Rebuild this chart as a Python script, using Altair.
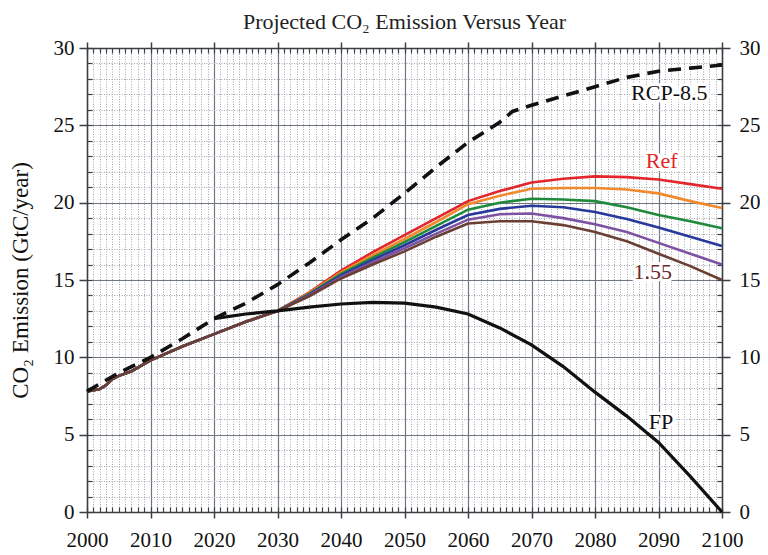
import altair as alt
import pandas as pd

# ---------------- data ----------------
common_years = [2000, 2002, 2003, 2004, 2005, 2007, 2010, 2015, 2020, 2025, 2030]
common_vals = [7.8, 7.95, 8.2, 8.6, 8.8, 9.1, 9.8, 10.7, 11.5, 12.3, 13.0]

late_years = [2035, 2040, 2045, 2050, 2055, 2060, 2065, 2070, 2075, 2080, 2085, 2090, 2095, 2100]
ref_vals = [14.2, 15.6, 16.8, 17.9, 19.0, 20.1, 20.75, 21.3, 21.55, 21.7, 21.65, 21.5, 21.2, 20.9]
s2_vals = [14.15, 15.5, 16.6, 17.65, 18.75, 19.9, 20.45, 20.9, 20.95, 20.95, 20.85, 20.6, 20.1, 19.65]
s3_vals = [14.1, 15.4, 16.45, 17.45, 18.5, 19.55, 20.0, 20.25, 20.2, 20.1, 19.7, 19.2, 18.8, 18.35]
s4_vals = [14.05, 15.3, 16.3, 17.25, 18.25, 19.2, 19.6, 19.8, 19.7, 19.4, 18.95, 18.4, 17.8, 17.2]
s5_vals = [14.0, 15.2, 16.15, 17.05, 18.0, 18.9, 19.25, 19.3, 19.0, 18.6, 18.1, 17.4, 16.7, 16.0]
s155_vals = [13.95, 15.1, 16.0, 16.85, 17.8, 18.65, 18.8, 18.8, 18.55, 18.1, 17.5, 16.7, 15.9, 15.0]

scen_names = ["Ref", "S2", "S3", "S4", "S5", "1.55"]
scen_colors = ["#e3262b", "#f08a2c", "#1f8a3c", "#27399a", "#7e52a3", "#6b4034"]
scen_late = [ref_vals, s2_vals, s3_vals, s4_vals, s5_vals, s155_vals]

rcp_years = [2000, 2005, 2010, 2015, 2020, 2025, 2030, 2035, 2040, 2045, 2050, 2055,
             2060, 2065, 2067, 2070, 2075, 2080, 2085, 2090, 2095, 2100]
rcp_vals = [7.8, 9.0, 10.0, 11.2, 12.5, 13.5, 14.7, 16.1, 17.6, 19.0, 20.6, 22.3,
            23.9, 25.2, 25.9, 26.3, 26.9, 27.5, 28.1, 28.5, 28.7, 28.9]

fp_years = [2020, 2025, 2030, 2035, 2040, 2045, 2050, 2055, 2060, 2065, 2070, 2075,
            2080, 2085, 2090, 2095, 2100]
fp_vals = [12.5, 12.8, 13.0, 13.25, 13.45, 13.55, 13.5, 13.25, 12.8, 11.9, 10.8, 9.4,
           7.75, 6.2, 4.5, 2.3, 0.0]

label_texts = ["RCP-8.5", "Ref", "1.55", "FP"]
label_years = [2091.7, 2090.5, 2089.1, 2090.4]
label_vals = [27.1, 22.7, 15.5, 5.8]
label_colors = ["#111111", "#e3262b", "#6b2a2a", "#111111"]

decades = list(range(2000, 2101, 10))
all_years = list(range(2000, 2101, 1))
y_major = [0, 5, 10, 15, 20, 25, 30]
y_minor = list(range(0, 31))

# ---------------- tables ----------------
rows = []
for name, late in zip(scen_names, scen_late):
    for yr, v in zip(common_years + late_years, common_vals + late):
        rows.append({"year": yr, "value": v, "series": name})
scen_df = pd.DataFrame(rows)
rcp_df = pd.DataFrame({"year": rcp_years, "value": rcp_vals})
fp_df = pd.DataFrame({"year": fp_years, "value": fp_vals})
lab_df = pd.DataFrame({"label": label_texts, "year": label_years, "value": label_vals,
                       "color": label_colors})

W, H = 635, 464
SERIF = "Liberation Serif"
LBL = 21
xs = alt.Scale(domain=[2000, 2100], nice=False, zero=False)
ys = alt.Scale(domain=[0, 30], nice=False)

MAJ_GRID = "#6f7781"
MIN_GRID = "#a4a8ae"
AX = "#3a3f44"

# minor, inward-pointing axes with dotted grid
x_min_bottom = alt.Axis(orient="top", offset=-H, values=all_years, tickSize=5, tickColor=AX,
                        tickWidth=1.2, labels=False, domain=False, grid=True,
                        gridColor=MIN_GRID, gridDash=[1, 1.5], gridWidth=1, title=None)
y_min_left = alt.Axis(orient="right", offset=-W, values=y_minor, tickSize=5, tickColor=AX,
                      tickWidth=1.2, labels=False, domain=False, grid=True,
                      gridColor=MIN_GRID, gridDash=[1, 1.5], gridWidth=1, title=None)
x_min_top = alt.Axis(orient="bottom", offset=-H, values=all_years, tickSize=5, tickColor=AX,
                     tickWidth=1.2, labels=False, domain=False, grid=False, title=None)
y_min_right = alt.Axis(orient="left", offset=-W, values=y_minor, tickSize=5, tickColor=AX,
                       tickWidth=1.2, labels=False, domain=False, grid=False, title=None)

# major axes
x_maj_bottom = alt.Axis(orient="bottom", values=decades, format="d", tickSize=6, tickColor=AX,
                        tickWidth=1.5, labelPadding=11, labelFont=SERIF, labelFontSize=LBL,
                        labelColor="#111", labelFlush=False, labelOverlap=False,
                        domainColor=AX, domainWidth=1.5, grid=True, gridColor=MAJ_GRID,
                        gridWidth=1.2, title=None)
y_maj_left = alt.Axis(orient="left", values=y_major, tickSize=8, tickColor=AX, tickWidth=1.5,
                      labelPadding=5, labelFont=SERIF, labelFontSize=LBL, labelColor="#111",
                      labelFlush=False, domainColor=AX, domainWidth=1.5, grid=True,
                      gridColor=MAJ_GRID, gridWidth=1.2,
                      title="CO\u2082 Emission (GtC/year)", titleFont=SERIF, titleFontSize=23,
                      titleFontWeight="normal", titleColor="#111", titlePadding=21)
x_maj_top = alt.Axis(orient="top", values=decades, tickSize=6, tickColor=AX, tickWidth=1.5,
                     labels=False, domainColor=AX, domainWidth=1.5, grid=False, title=None)
y_maj_right = alt.Axis(orient="right", values=y_major, tickSize=8, tickColor=AX, tickWidth=1.5,
                       labelPadding=9, labelFont=SERIF, labelFontSize=LBL, labelColor="#111",
                       labelFlush=False, domainColor=AX, domainWidth=1.5, grid=False, title=None)

scen = alt.Chart(scen_df).mark_line(strokeWidth=2.6).encode(
    x=alt.X("year:Q", scale=xs, axis=x_min_bottom),
    y=alt.Y("value:Q", scale=ys, axis=y_min_left),
    color=alt.Color("series:N", scale=alt.Scale(domain=scen_names, range=scen_colors),
                    legend=None),
    order=alt.Order("year:Q"),
)

fp = alt.Chart(fp_df).mark_line(strokeWidth=3.2, color="#111111").encode(
    x=alt.X("year:Q", scale=xs, axis=x_min_top),
    y=alt.Y("value:Q", scale=ys, axis=y_min_right),
)

rcp = alt.Chart(rcp_df).mark_line(strokeWidth=3.6, color="#111111", strokeDash=[13, 8]).encode(
    x=alt.X("year:Q", scale=xs, axis=x_maj_bottom),
    y=alt.Y("value:Q", scale=ys, axis=y_maj_left),
)

halo = alt.Chart(lab_df).mark_text(font=SERIF, fontSize=22, stroke="white", strokeWidth=6,
                                   strokeJoin="round").encode(
    x=alt.X("year:Q", scale=xs, axis=x_maj_top),
    y=alt.Y("value:Q", scale=ys, axis=y_maj_right),
    text="label:N",
)

labels = alt.Chart(lab_df).mark_text(font=SERIF, fontSize=22).encode(
    x=alt.X("year:Q", scale=xs, axis=None),
    y=alt.Y("value:Q", scale=ys, axis=None),
    text="label:N",
    color=alt.Color("color:N", scale=None),
)

chart = alt.layer(scen, fp, rcp, halo, labels).resolve_axis(
    x="independent", y="independent"
).properties(
    width=W, height=H,
    title=alt.Title("Projected CO\u2082 Emission Versus Year", font=SERIF, fontSize=22,
                    fontWeight="normal", color="#222", anchor="middle", offset=3),
    padding={"left": 1, "top": 3, "right": 0, "bottom": 0},
).configure_view(stroke=None).configure(background="white")

chart.save("out.html", embed_options={"renderer": "svg", "actions": False})
